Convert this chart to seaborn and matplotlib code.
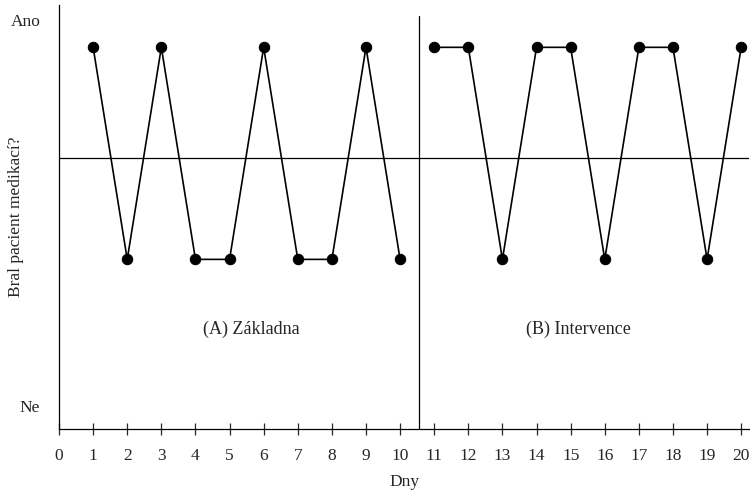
import matplotlib
matplotlib.use("Agg")
import matplotlib.pyplot as plt
import seaborn as sns
import pandas as pd

# data: 1 = Ano (took medication), 0 = Ne
days_a = [1, 2, 3, 4, 5, 6, 7, 8, 9, 10]
took_a = [1, 0, 1, 0, 0, 1, 0, 0, 1, 0]
days_b = [11, 12, 13, 14, 15, 16, 17, 18, 19, 20]
took_b = [1, 1, 0, 1, 1, 0, 1, 1, 0, 1]
x_ticks = list(range(0, 21))

sns.set_style("white")
plt.rcParams['font.family'] = ['Liberation Serif', 'DejaVu Serif']

df_a = pd.DataFrame({"Dny": days_a, "val": took_a})
df_b = pd.DataFrame({"Dny": days_b, "val": took_b})

fig = plt.figure(figsize=(7.5, 4.92), dpi=100)
ax = fig.add_axes([0.0787, 0.128, 0.92, 0.862])

for df in (df_a, df_b):
    sns.lineplot(data=df, x="Dny", y="val", ax=ax, color="black",
                 marker="o", markersize=7.5, markeredgecolor="black",
                 linewidth=1.2, estimator=None)

ax.axhline(0.48, color="black", linewidth=0.9)
ax.plot([10.55, 10.55], [-0.8, 1.15], color="black", linewidth=0.9)

ax.set_xlim(0, 20.23)
ax.set_ylim(-0.8, 1.2)
ax.set_xticks(x_ticks)
ax.set_yticks([])
ax.tick_params(axis="x", direction="inout", length=8, width=0.9,
               labelsize=12.5, pad=10, bottom=True)
ax.set_xlabel("Dny", fontsize=12.5, labelpad=7)
ax.set_ylabel("Bral pacient medikací?", fontsize=12.5, labelpad=25)

for side in ["top", "right"]:
    ax.spines[side].set_visible(False)
for side in ["left", "bottom"]:
    ax.spines[side].set_color("black")
    ax.spines[side].set_linewidth(0.9)

ax.text(-0.55, 1.12, "Ano", ha="right", va="center", fontsize=12.5)
ax.text(-0.55, -0.7, "Ne", ha="right", va="center", fontsize=12.5)
ax.text(5.65, -0.33, "(A) Základna", ha="center", va="center", fontsize=13)
ax.text(15.23, -0.33, "(B) Intervence", ha="center", va="center", fontsize=13)

fig.savefig("out.png", dpi=100)
